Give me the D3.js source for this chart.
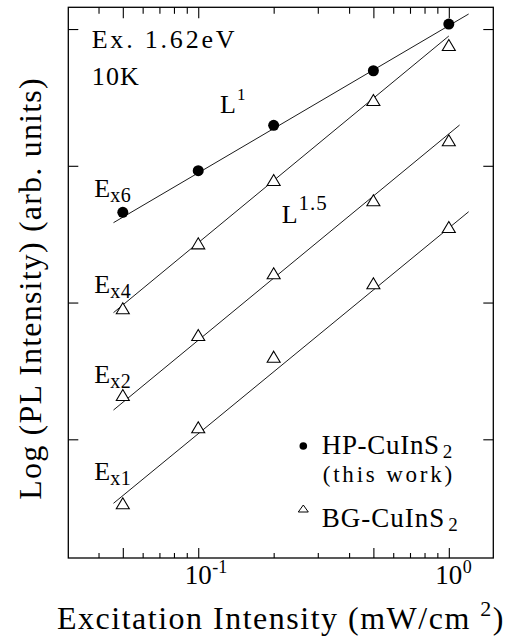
<!DOCTYPE html>
<html><head><meta charset="utf-8">
<script src="https://cdn.jsdelivr.net/npm/d3@7"></script>
<style>
html,body{margin:0;padding:0;background:#fff;}
svg{display:block;}
</style></head><body>
<svg id="chart" width="508" height="637"></svg>
<script>
// ---- data (log of PL intensity in decades, arbitrary offset) ----
const excitation = [0.05, 0.1, 0.2, 0.5, 1.0];
const hpEx6 = [1.660, 1.964, 2.296, 2.695, 3.036];
const bgEx4 = [0.958, 1.433, 1.896, 2.481, 2.883];
const bgEx2 = [0.324, 0.763, 1.214, 1.748, 2.187];
const bgEx1 = [-0.468, 0.088, 0.604, 1.141, 1.552];
// fitted power-law lines, end points [excitation, log intensity]
const fitHp  = [[0.0459, 1.584], [1.2, 3.110]];
const fitEx4 = [[0.0459, 0.926], [1.0, 2.949]];
const fitEx2 = [[0.0459, 0.214], [1.104, 2.298]];
const fitEx1 = [[0.0459, -0.468], [1.2, 1.664]];
const xDomain = [0.0303, 1.505];
const yDomain = [-0.868, 3.159];
const yTickValues = [0, 1, 2, 3];
const xLongTicks = [0.05, 0.1, 0.5, 1];
const xShortTicks = [0.04, 0.06, 0.07, 0.08, 0.09, 0.2, 0.3, 0.4, 0.6, 0.7, 0.8, 0.9];
const xLabelTicks = [0.1, 1];
const xTickLabels = [["10", "-1"], ["10", "0"]];

const svg = d3.select("#chart");
const L = 68.3, R = 493.3, T = 7.3, B = 558;
const x = d3.scaleLog().domain(xDomain).range([L, R]);
const y = d3.scaleLinear().domain(yDomain).range([B, T]);

// inward ticks
function xt(axisFn, vals, len, ypos) {
  const g = svg.append("g").attr("transform", `translate(0,${ypos})`)
    .call(axisFn(x).tickValues(vals).tickSize(len).tickFormat(""));
  g.select(".domain").remove();
  g.selectAll("line").attr("stroke", "#000").attr("stroke-width", 1.1);
}
xt(d3.axisTop, xLongTicks, 10, B);
xt(d3.axisTop, xShortTicks, 5, B);
xt(d3.axisBottom, xLongTicks, 11, T);
xt(d3.axisBottom, xShortTicks, 6.5, T);
function yt(axisFn, xpos) {
  const g = svg.append("g").attr("transform", `translate(${xpos},0)`)
    .call(axisFn(y).tickValues(yTickValues).tickSize(10).tickFormat(""));
  g.select(".domain").remove();
  g.selectAll("line").attr("stroke", "#000").attr("stroke-width", 1.1);
}
yt(d3.axisRight, L);
yt(d3.axisLeft, R);

svg.append("rect").attr("x", L).attr("y", T).attr("width", R - L).attr("height", B - T)
  .attr("fill", "none").attr("stroke", "#000").attr("stroke-width", 1.3);

function T0(xp, yp, size) {
  return svg.append("text").attr("x", xp).attr("y", yp).attr("font-size", size)
    .style("font-family", "'Liberation Serif'").attr("fill", "#000");
}

// x tick labels: base centred on the tick, exponent after it
xLabelTicks.forEach((v, i) => {
  T0(x(v), 584, 27).attr("text-anchor", "middle").text(xTickLabels[i][0]);
  T0(x(v) + 14, 573, 18).text(xTickLabels[i][1]);
});

// fit lines
const line = d3.line().x(d => x(d[0])).y(d => y(d[1]));
[fitHp, fitEx4, fitEx2, fitEx1].forEach(f => {
  svg.append("path").attr("d", line(f)).attr("fill", "none").attr("stroke", "#000").attr("stroke-width", 0.9);
});

// markers
function tri(w, h) { return `M0,${-h/2}L${w/2},${h/2}L${-w/2},${h/2}Z`; }
svg.append("g").selectAll("circle").data(excitation.map((e, i) => [e, hpEx6[i]])).join("circle")
  .attr("cx", d => x(d[0])).attr("cy", d => y(d[1])).attr("r", 5.5).attr("fill", "#000");
[bgEx4, bgEx2, bgEx1].forEach(s => {
  svg.append("g").selectAll("path").data(excitation.map((e, i) => [e, s[i]])).join("path")
    .attr("transform", d => `translate(${x(d[0])},${y(d[1])})`).attr("d", tri(13, 11))
    .attr("fill", "#fff").attr("stroke", "#000").attr("stroke-width", 1.1);
});

// annotations
function txt(xp, yp, s, size, ls) {
  return T0(xp, yp, size).attr("letter-spacing", ls || 0).text(s);
}
txt(91.7, 48.3, "Ex. 1.62eV", 26, 2.8);
txt(91.7, 85, "10K", 26, 1.2);
function powerLabel(xp, yp, sup, supSize) {
  const t = T0(xp, yp, 26);
  t.append("tspan").text("L");
  t.append("tspan").attr("dx", 1).attr("dy", -13).attr("font-size", supSize).attr("letter-spacing", 1).text(sup);
}
powerLabel(220, 113.3, "1", 17);
powerLabel(281.7, 222.7, "1.5", 21);
function eLabel(yp, sub) {
  const t = T0(94.3, yp, 26);
  t.append("tspan").text("E");
  t.append("tspan").attr("dy", 5).attr("font-size", 20).attr("letter-spacing", 0.5).text(sub);
}
eLabel(197, "x6");
eLabel(293.3, "x4");
eLabel(383, "x2");
eLabel(480, "x1");

// legend
svg.append("circle").attr("cx", 303.3).attr("cy", 446).attr("r", 3.8).attr("fill", "#000");
const l1 = T0(321.7, 453.5, 27).attr("letter-spacing", 0.7);
l1.append("tspan").text("HP-CuInS");
l1.append("tspan").attr("dx", 3).attr("dy", 4).attr("font-size", 19).text("2");
txt(322.7, 481.7, "(this work)", 23, 2.8);
svg.append("path").attr("transform", "translate(303.3,508.5)").attr("d", tri(10, 7))
  .attr("fill", "#fff").attr("stroke", "#000").attr("stroke-width", 1);
const l2 = T0(321.7, 527.3, 27).attr("letter-spacing", 1);
l2.append("tspan").text("BG-CuInS");
l2.append("tspan").attr("dx", 3).attr("dy", 4).attr("font-size", 19).text("2");

// axis titles
const xt2 = T0(281, 629, 32).attr("text-anchor", "middle").attr("letter-spacing", 1.5);
xt2.append("tspan").text("Excitation Intensity (mW/cm ");
xt2.append("tspan").attr("dy", -13).attr("font-size", 22).text("2");
xt2.append("tspan").attr("dy", 13).text(")");
T0(0, 0, 32).attr("transform", "translate(41,288.5) rotate(-90)").attr("text-anchor", "middle")
  .attr("letter-spacing", 1.2).text("Log (PL Intensity) (arb. units)");
</script>
</body></html>
